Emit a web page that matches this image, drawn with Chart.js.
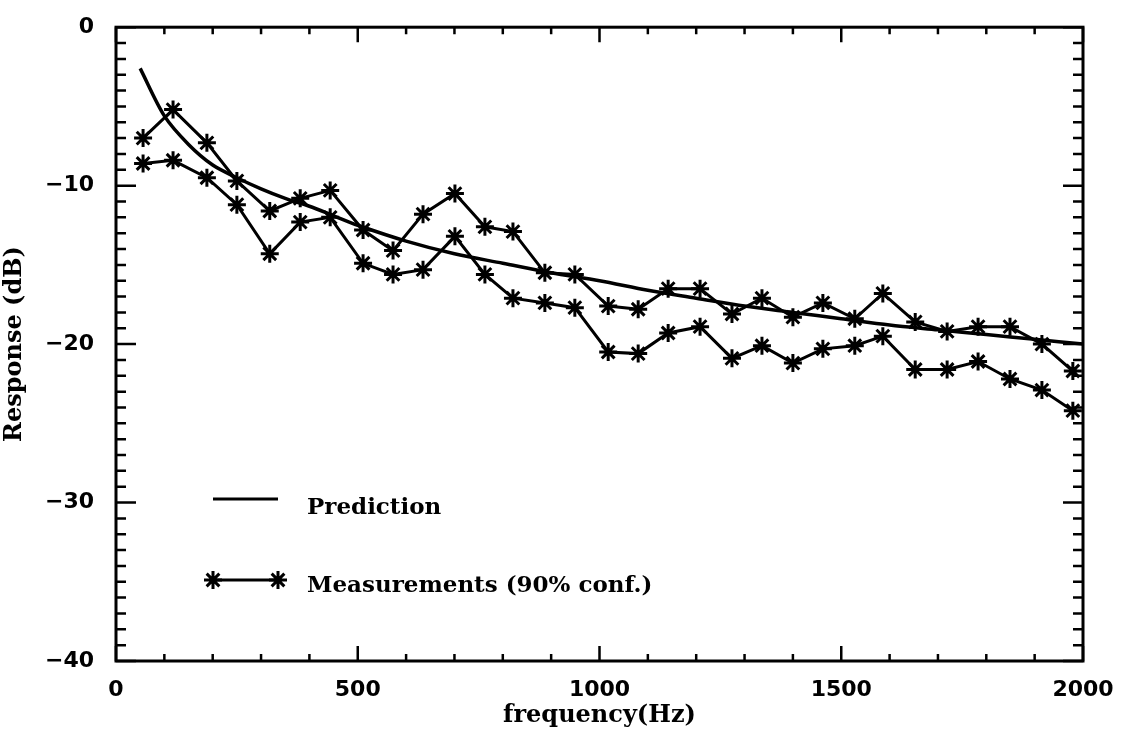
<!DOCTYPE html>
<html>
<head>
<meta charset="utf-8">
<script src="https://cdn.jsdelivr.net/npm/chart.js@4/dist/chart.umd.min.js"></script>
<style>
  html, body { margin: 0; padding: 0; background: #fff; }
  #box { width: 1130px; height: 732px; }
</style>
</head>
<body>
<div id="box"><canvas id="grafico"></canvas></div>
<script>
// frequencias das medicoes (Hz)
const freqMedida = [56, 118, 188, 250, 318, 381, 443, 511, 573, 635, 701, 763, 821, 887, 949,
  1018, 1080, 1142, 1208, 1274, 1336, 1400, 1462, 1528, 1586, 1653, 1719, 1783, 1849, 1915, 1979];
// limite superior e inferior (90% conf.)
const medidaSup = [-7.0, -5.2, -7.3, -9.7, -11.6, -10.8, -10.3, -12.8, -14.1, -11.8, -10.5, -12.6, -12.9, -15.5, -15.6,
  -17.6, -17.8, -16.5, -16.5, -18.1, -17.1, -18.3, -17.4, -18.4, -16.8, -18.6, -19.2, -18.9, -18.9, -20.0, -21.7];
const medidaInf = [-8.6, -8.4, -9.5, -11.2, -14.3, -12.3, -12.0, -14.9, -15.6, -15.3, -13.2, -15.6, -17.1, -17.4, -17.7,
  -20.5, -20.6, -19.3, -18.9, -20.9, -20.1, -21.2, -20.3, -20.1, -19.5, -21.6, -21.6, -21.1, -22.2, -22.9, -24.2];

// curva de previsao
const freqPrev = [50, 100, 150, 200, 250, 300, 350, 400, 450, 500, 600, 700, 800, 900, 1000,
  1100, 1200, 1300, 1400, 1500, 1600, 1700, 1800, 1900, 2000];
const previsao = [-2.6, -5.6, -7.4, -8.7, -9.5, -10.2, -10.8, -11.3, -11.9, -12.5, -13.5, -14.3, -14.9, -15.5, -16.0,
  -16.6, -17.1, -17.6, -18.0, -18.4, -18.8, -19.1, -19.4, -19.7, -20.0];

const yTicks = [0, -10, -20, -30, -40];
const xTicks = [0, 500, 1000, 1500, 2000];

const fonteNum = "'DejaVu Sans', sans-serif";
const fonteTxt = "'DejaVu Serif', serif";

function pontos(xs, ys) {
  return xs.map((x, i) => ({ x: x, y: ys[i] }));
}

// moldura, ticks para dentro e legenda
const molduraPlugin = {
  id: 'moldura',
  afterDraw(chart) {
    const ctx = chart.ctx;
    const a = chart.chartArea;
    const sx = chart.scales.x;
    const sy = chart.scales.y;
    ctx.save();
    ctx.strokeStyle = '#000';
    ctx.lineWidth = 3;
    ctx.strokeRect(a.left, a.top, a.right - a.left, a.bottom - a.top);

    ctx.lineWidth = 2.5;
    ctx.beginPath();
    for (let v = 0; v >= -40; v--) {
      const y = sy.getPixelForValue(v);
      const len = (v % 10 === 0) ? 20 : 10;
      ctx.moveTo(a.left, y); ctx.lineTo(a.left + len, y);
      ctx.moveTo(a.right, y); ctx.lineTo(a.right - len, y);
    }
    for (let f = 0; f <= 2000; f += 100) {
      const x = sx.getPixelForValue(f);
      const len = (f % 500 === 0) ? 15 : 7;
      ctx.moveTo(x, a.bottom); ctx.lineTo(x, a.bottom - len);
      ctx.moveTo(x, a.top); ctx.lineTo(x, a.top + len);
    }
    ctx.stroke();

    // legenda
    ctx.lineWidth = 3;
    ctx.beginPath();
    ctx.moveTo(213, 499); ctx.lineTo(278, 499);
    ctx.moveTo(213, 580); ctx.lineTo(278, 580);
    ctx.stroke();
    [213, 278].forEach(x => {
      Chart.helpers.drawPoint(ctx, { pointStyle: 'star', radius: 9, borderWidth: 3 }, x, 580);
    });
    ctx.fillStyle = '#000';
    ctx.font = "bold 23px " + fonteTxt;
    ctx.textBaseline = 'middle';
    ctx.fillText('Prediction', 307, 508);
    ctx.fillText('Measurements (90% conf.)', 307, 586);
    ctx.restore();
  }
};

const estiloMedida = {
  borderColor: '#000',
  backgroundColor: '#000',
  borderWidth: 3,
  pointStyle: 'star',
  pointRadius: 9,
  pointBorderWidth: 3,
  tension: 0,
};

const config = {
  type: 'line',
  data: {
    datasets: [
      {
        label: 'Prediction',
        data: pontos(freqPrev, previsao),
        borderColor: '#000',
        borderWidth: 3.5,
        pointRadius: 0,
        tension: 0.3,
      },
      Object.assign({ label: 'Measurements (90% conf.)', data: pontos(freqMedida, medidaSup) }, estiloMedida),
      Object.assign({ label: 'Measurements inf', data: pontos(freqMedida, medidaInf) }, estiloMedida),
    ],
  },
  options: {
    responsive: false,
    animation: false,
    layout: { padding: { top: 11, right: 47, left: 0, bottom: 0 } },
    plugins: {
      legend: { display: false },
      tooltip: { enabled: false },
    },
    scales: {
      x: {
        type: 'linear',
        min: 0,
        max: 2000,
        afterBuildTicks: s => { s.ticks = xTicks.map(v => ({ value: v })); },
        afterFit: s => { s.height = 71; },
        grid: { display: false },
        border: { display: false },
        ticks: {
          color: '#000',
          padding: 8,
          maxRotation: 0,
          callback: v => String(v),
          font: { family: fonteNum, size: 22, weight: 'bold' },
        },
        title: {
          display: true,
          text: 'frequency(Hz)',
          color: '#000',
          padding: { top: 0, bottom: 2 },
          font: { family: fonteTxt, size: 24, weight: 'bold' },
        },
      },
      y: {
        type: 'linear',
        min: -40,
        max: 0,
        afterBuildTicks: s => { s.ticks = yTicks.map(v => ({ value: v })); },
        afterFit: s => { s.width = 116; },
        grid: { display: false },
        border: { display: false },
        ticks: {
          color: '#000',
          padding: 14,
          callback: v => (v < 0 ? '\u2212' + Math.abs(v) : String(v)),
          font: { family: fonteNum, size: 22, weight: 'bold' },
        },
        title: {
          display: true,
          text: 'Response (dB)',
          color: '#000',
          padding: { top: 0, bottom: 8 },
          font: { family: fonteTxt, size: 24, weight: 'bold' },
        },
      },
    },
  },
  plugins: [molduraPlugin],
};

const canvas = document.getElementById('grafico');
canvas.width = 1130;
canvas.height = 732;
const grafico = new Chart(canvas.getContext('2d'), config);
</script>
</body>
</html>
